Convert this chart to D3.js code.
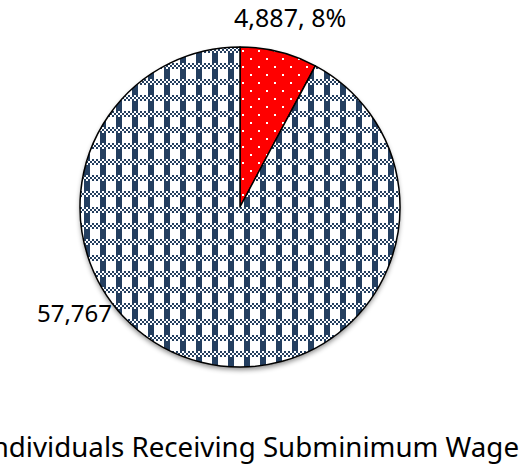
<!DOCTYPE html>
<html>
<head>
    <style>
        body { margin: 0; background: #fff; }
        text { font-family: "Noto Sans", "Open Sans", sans-serif; fill: #000; }
    </style>
    <script src="https://d3js.org/d3.v7.min.js"></script>
</head>
<body>
    <script>
        // chart data
        let categories = ["Subminimum Wage", "Other"];
        let values = [4887, 57767];
        let labels = ["4,887, 8%", "57,767"];
        let title = "Individuals Receiving Subminimum Wage";

        let width = 527;
        let height = 470;
        let cx = 240, cy = 207, R = 160;
        let navy = "#243f60";

        let svg = d3.select("body")
            .append("svg")
            .attr("width", width)
            .attr("height", height);

        let defs = svg.append("defs");

        // red slice: white dots, staggered
        let dots = defs.append("pattern")
            .attr("id", "dots")
            .attr("patternUnits", "userSpaceOnUse")
            .attr("width", 16).attr("height", 16);
        dots.append("rect").attr("width", 16).attr("height", 16).attr("fill", "#ff0000");
        dots.append("rect").attr("x", 2).attr("y", 3).attr("width", 2).attr("height", 2).attr("fill", "#fff");
        dots.append("rect").attr("x", 10).attr("y", 11).attr("width", 2).attr("height", 2).attr("fill", "#fff");

        // blue slice: plaid (8x8 bitmap drawn at 2x)
        let plaidBits = [
            "10101010",
            "01010101",
            "10101010",
            "00111000",
            "00111000",
            "00111000",
            "00111000",
            "00111000"
        ];
        let plaid = defs.append("pattern")
            .attr("id", "plaid")
            .attr("patternUnits", "userSpaceOnUse")
            .attr("width", 16).attr("height", 16);
        plaid.append("rect").attr("width", 16).attr("height", 16).attr("fill", "#fff");
        plaidBits.forEach((row, r) => {
            row.split("").forEach((b, c) => {
                if (b == "1") {
                    plaid.append("rect")
                        .attr("x", c * 2).attr("y", r * 2)
                        .attr("width", 2).attr("height", 2)
                        .attr("fill", navy)
                        .attr("shape-rendering", "crispEdges");
                }
            });
        });

        let shadow = defs.append("filter").attr("id", "shadow")
            .attr("x", "-10%").attr("y", "-10%").attr("width", "120%").attr("height", "125%");
        shadow.append("feDropShadow")
            .attr("dx", 0).attr("dy", 3).attr("stdDeviation", 2.5)
            .attr("flood-color", "#000").attr("flood-opacity", 0.45);

        let fills = d3.scaleOrdinal().domain(categories).range(["url(#dots)", "url(#plaid)"]);

        let pie = d3.pie().sort(null).value(d => d.value);
        let arcs = pie(categories.map((c, i) => ({ name: c, value: values[i] })));
        let arc = d3.arc().innerRadius(0).outerRadius(R);

        let g = svg.append("g")
            .attr("transform", `translate(${cx}, ${cy})`);

        g.append("circle")
            .attr("r", R)
            .attr("fill", "#fff")
            .attr("filter", "url(#shadow)");

        g.selectAll("path")
            .data(arcs)
            .enter()
            .append("path")
            .attr("d", arc)
            .attr("fill", d => fills(d.data.name))
            .attr("stroke", "#000")
            .attr("stroke-width", 1.5)
            .attr("stroke-linejoin", "round");

        // data labels (Excel best-fit positions)
        let labelArc = d3.arc().innerRadius(R + 22).outerRadius(R + 22);
        let p0 = labelArc.centroid(arcs[0]);
        svg.append("text")
            .attr("x", cx + p0[0] + 6)
            .attr("y", cy + p0[1] - 3)
            .attr("text-anchor", "middle")
            .style("font-size", "25px")
            .text(labels[0]);

        svg.append("text")
            .attr("x", 112)
            .attr("y", 322)
            .attr("text-anchor", "end")
            .style("font-size", "24px")
            .text(labels[1]);

        svg.append("text")
            .attr("x", 519)
            .attr("y", 457)
            .attr("text-anchor", "end")
            .style("font-size", "27.7px")
            .text(title);
    </script>
</body>
</html>
